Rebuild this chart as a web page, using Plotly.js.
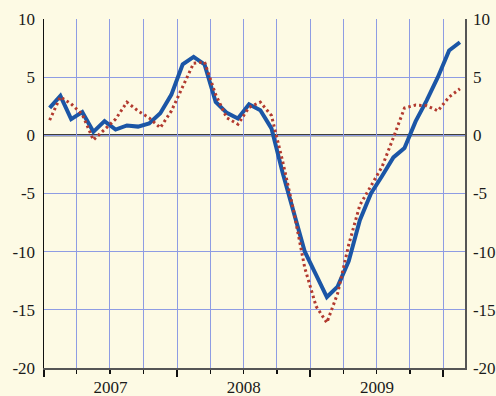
<!DOCTYPE html>
<html>
<head>
<meta charset="utf-8">
<script src="https://cdn.plot.ly/plotly-3.0.1.min.js"></script>
<style>html,body{margin:0;padding:0;background:#FDFAE4;}#chart{width:496px;height:396px;}</style>
</head>
<body>
<div id="chart"></div>
<script>
const months = [
  '2007-01','2007-02','2007-03','2007-04','2007-05','2007-06','2007-07','2007-08','2007-09','2007-10','2007-11','2007-12',
  '2008-01','2008-02','2008-03','2008-04','2008-05','2008-06','2008-07','2008-08','2008-09','2008-10','2008-11','2008-12',
  '2009-01','2009-02','2009-03','2009-04','2009-05','2009-06','2009-07','2009-08','2009-09','2009-10','2009-11','2009-12',
  '2010-01','2010-02'
];
const solidSeries = [
  2.36, 3.39, 1.39, 1.99, 0.3, 1.22, 0.5, 0.85, 0.75, 1.02, 1.9, 3.5,
  6.1, 6.75, 6.1, 2.87, 1.93, 1.45, 2.67, 2.16, 0.6, -3.2, -6.6, -10.0,
  -12.0, -13.9, -13.0, -10.8, -7.3, -5.0, -3.5, -1.9, -1.1, 1.2, 3.0, 5.0,
  7.3, 8.0
];
const dottedSeries = [
  1.3, 3.3, 2.7, 1.8, -0.4, 0.5, 1.4, 2.85, 2.1, 1.5, 0.65, 2.1,
  4.2, 6.2, 6.3, 3.5, 1.5, 0.95, 2.4, 2.85, 1.7, -2.2, -6.5, -11.4,
  -14.7, -16.1, -13.6, -9.4, -6.0, -4.4, -2.7, -0.2, 2.35, 2.6, 2.55, 2.1,
  3.3, 4.0
];
const yTicks = [-20, -15, -10, -5, 0, 5, 10];

const bg = '#FDFAE4';
const grid = '#8E9CE3';
const font = {family: '"Liberation Serif", "Times New Roman", serif', size: 17, color: '#1a1a1a'};

const traces = [
  {x: months, y: solidSeries, xperiod: 'M1', xperiodalignment: 'middle', type: 'scatter', mode: 'lines',
   line: {color: '#1B56A6', width: 4}, hoverinfo: 'skip', showlegend: false},
  {x: months, y: dottedSeries, xperiod: 'M1', xperiodalignment: 'middle', type: 'scatter', mode: 'lines',
   line: {color: '#B23A2F', width: 3, dash: '2.5px,3px'}, hoverinfo: 'skip', showlegend: false},
  {x: months, y: solidSeries, xperiod: 'M1', xperiodalignment: 'middle', yaxis: 'y2', type: 'scatter', mode: 'lines',
   line: {width: 0}, opacity: 0, hoverinfo: 'skip', showlegend: false}
];

const yBase = {
  range: [-20, 10], tickvals: yTicks, ticktext: yTicks.map(String), showgrid: true, gridcolor: grid, gridwidth: 1,
  zeroline: false, showline: true, linewidth: 1.5, ticks: '', tickfont: font, fixedrange: true
};

const layout = {
  width: 496, height: 396,
  margin: {l: 44, r: 31, t: 19, b: 28, pad: 0},
  paper_bgcolor: bg, plot_bgcolor: bg,
  showlegend: false,
  xaxis: {
    type: 'date', range: ['2007-01-01', '2010-03-01'],
    tick0: '2007-01-01', dtick: 'M12', tickformat: '%Y', ticklabelmode: 'period',
    ticks: 'outside', ticklen: 7, tickwidth: 2, tickcolor: '#111',
    showgrid: true, gridcolor: grid, gridwidth: 1,
    showline: true, linecolor: '#555', linewidth: 2,
    zeroline: false, tickfont: font, ticklabelstandoff: -4,
    minor: {dtick: 'M3', tick0: '2007-01-01', ticks: 'outside', ticklen: 4, tickwidth: 1.2, tickcolor: '#111',
            showgrid: true, gridcolor: grid, gridwidth: 1},
    fixedrange: true
  },
  yaxis: Object.assign({}, yBase, {side: 'left', linecolor: '#111', ticklabelstandoff: 4}),
  yaxis2: Object.assign({}, yBase, {side: 'right', overlaying: 'y', linecolor: '#555', showgrid: false, ticklabelstandoff: 3}),
  shapes: [
    {type: 'line', xref: 'paper', x0: 0, x1: 1, yref: 'y', y0: 0, y1: 0, line: {color: '#000', width: 2}, layer: 'below'}
  ]
};

Plotly.newPlot('chart', traces, layout, {staticPlot: true, displayModeBar: false});
</script>
</body>
</html>
